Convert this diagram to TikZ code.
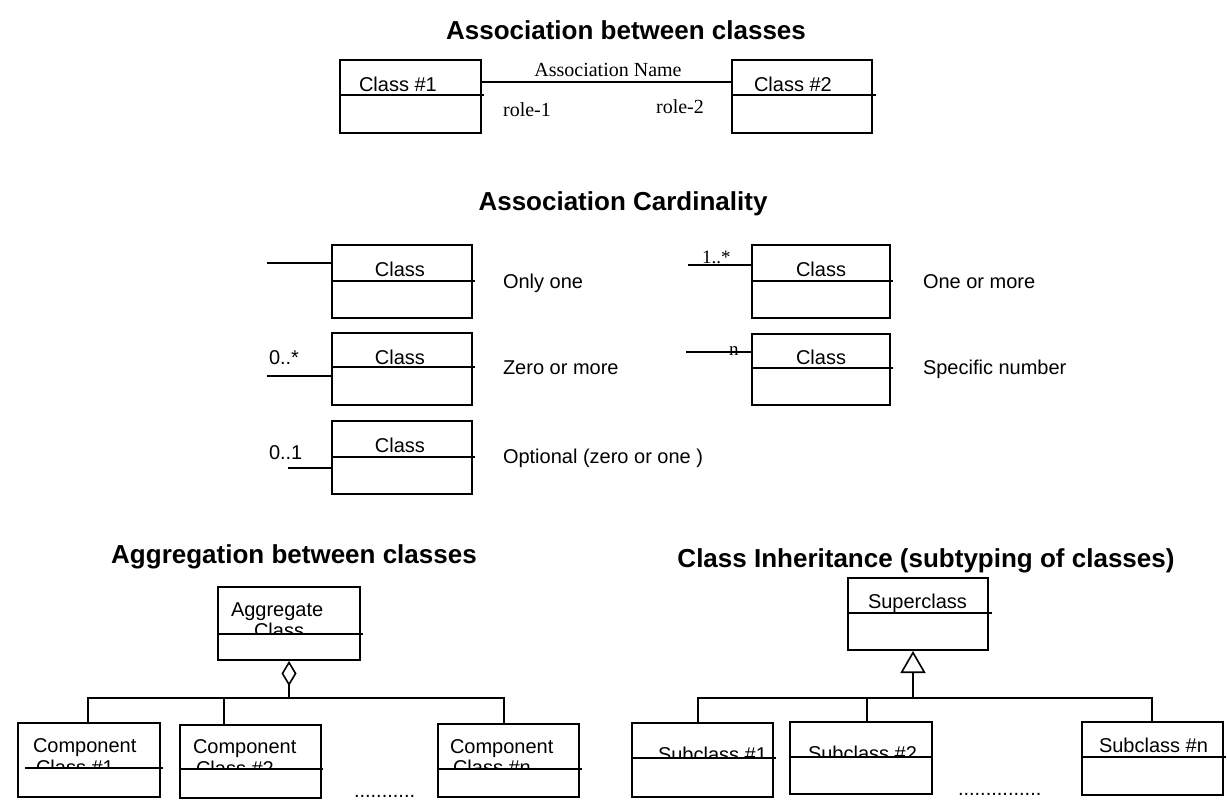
\documentclass[tikz,border=0pt]{standalone}
\usepackage{fontspec}
\setmainfont{Liberation Serif}
\setsansfont{Liberation Sans}
\usetikzlibrary{fit,arrows.meta}
\begin{document}
\begin{tikzpicture}[x=1pt,y=-1pt,line width=2pt,line join=miter,
  cbox/.style={draw,fill=white,inner sep=0pt,line width=2pt},
  heading/.style={font=\sffamily\bfseries\fontsize{26}{30}\selectfont,anchor=base,inner sep=0pt},
  lbl/.style={font=\sffamily\fontsize{20}{24}\selectfont,anchor=base west,inner sep=0pt},
  clbl/.style={lbl,anchor=base},
  slbl/.style={font=\rmfamily\fontsize{20}{24}\selectfont,anchor=base,inner sep=0pt},
  mult/.style={font=\rmfamily\fontsize{19}{22}\selectfont,anchor=base west,inner sep=0pt},
  conn/.style={line width=2pt}
]
\fill[white] (0,0) rectangle (1227,810);
\useasboundingbox (0,0) rectangle (1227,810);

% ---------- Association between classes ----------
\node[heading] (t1) at (626,40) {Association between classes};
\node[cbox,fit={(340,60)(481,133)}] (c1) {};
\node[cbox,fit={(732,60)(872,133)}] (c2) {};
\draw (340,95) -- (484,95);
\draw (732,95) -- (876,95);
\node[lbl] (c1n) at (358,92) {Class \#1};
\node[lbl] (c2n) at (753,92) {Class \#2};
\draw[conn] (c1.east |- 0,82) -- (c2.west |- 0,82);
\node[slbl] (an) at (608,77) {Association Name};
\node[slbl] (r1) at (527,117) {role-1};
\node[slbl] (r2) at (680,114) {role-2};

% ---------- Association cardinality ----------
\node[heading] (t2) at (623,211) {Association Cardinality};
\node[cbox,fit={(332,245)(472,318)}] (l1) {};
\node[cbox,fit={(332,333)(472,405)}] (l2) {};
\node[cbox,fit={(332,421)(472,494)}] (l3) {};
\node[cbox,fit={(752,245)(890,318)}] (q1) {};
\node[cbox,fit={(752,334)(890,405)}] (q2) {};
\draw (332,281) -- (475,281);
\draw (332,367) -- (475,367);
\draw (332,457) -- (475,457);
\draw (752,281) -- (893,281);
\draw (752,368) -- (893,368);
\node[clbl] at (400,277) {Class};
\node[clbl] at (400,365) {Class};
\node[clbl] at (400,453) {Class};
\node[clbl] at (821,277) {Class};
\node[clbl] at (821,365) {Class};

\coordinate (e1) at (267,263);
\coordinate (e2) at (267,376);
\coordinate (e3) at (288,468);
\coordinate (e4) at (688,265);
\coordinate (e5) at (686,352);
\draw[conn] (e1) -- (e1 -| l1.west);
\draw[conn] (e2) -- (e2 -| l2.west);
\draw[conn] (e3) -- (e3 -| l3.west);
\draw[conn] (e4) -- (e4 -| q1.west);
\draw[conn] (e5) -- (e5 -| q2.west);
\node[lbl] at (268,365) {0..*};
\node[lbl] at (268,459) {0..1};
\node[mult] at (701,264) {1..*};
\node[mult] at (728,356) {n};

\node[lbl] at (502,289) {Only one};
\node[lbl] at (502,375) {Zero or more};
\node[lbl] at (502,464) {Optional (zero or one )};
\node[lbl] at (922,289) {One or more};
\node[lbl] at (922,375) {Specific number};

% ---------- Aggregation ----------
\node[heading] (t3) at (294,563) {Aggregation between classes};
\node[cbox,fit={(218,587)(360,660)}] (agg) {};
\node[lbl] at (230,616) {Aggregate};
\node[lbl] at (253,637) {Class};
\fill[white] (219,635) rectangle (359,659);
\draw (218,634) -- (363,634);

\node[cbox,fit={(18,723)(160,797)}] (p1) {};
\node[lbl] at (32,752) {Component};
\node[lbl] at (35,774) {Class \#1};
\fill[white] (19,769) rectangle (159,796);
\draw (25,768) -- (163,768);

\node[cbox,fit={(180,725)(321,798)}] (p2) {};
\node[lbl] at (192,753) {Component};
\node[lbl] at (195,775) {Class \#2};
\fill[white] (181,770) rectangle (320,797);
\draw (180,769) -- (323,769);

\node[cbox,fit={(438,724)(579,797)}] (pn) {};
\node[lbl] at (449,753) {Component};
\node[lbl] at (452,774) {Class \#n};
\fill[white] (439,770) rectangle (578,796);
\draw (438,769) -- (582,769);

\coordinate (a1) at (88,698);
\coordinate (a2) at (224,698);
\coordinate (a3) at (504,698);
\draw[conn,{Diamond[open,length=25pt,width=15pt,line width=1.6pt]}-] (agg.south) -- (agg.south |- a1);
\draw[conn] (a1 |- p1.north) -- (a1) -- (a3) -- (a3 |- pn.north);
\draw[conn] (a2) -- (a2 |- p2.north);
\node[lbl] (d1) at (353,797) {...........};

% ---------- Inheritance ----------
\node[heading] (t4) at (926,567) {Class Inheritance (subtyping of classes)};
\node[cbox,fit={(848,578)(988,650)}] (sup) {};
\node[lbl] at (867,608) {Superclass};
\draw (848,613) -- (992,613);

\node[cbox,fit={(632,723)(773,797)}] (s1) {};
\node[lbl] at (657,761) {Subclass \#1};
\fill[white] (633,759) rectangle (772,796);
\draw (632,758) -- (776,758);

\node[cbox,fit={(790,722)(932,794)}] (s2) {};
\node[lbl] at (807,760) {Subclass \#2};
\fill[white] (791,758) rectangle (931,793);
\draw (790,757) -- (933,757);

\node[cbox,fit={(1082,722)(1223,795)}] (sn) {};
\node[lbl] at (1098,752) {Subclass \#n};
\draw (1082,757) -- (1226,757);

\coordinate (b0) at (913,698);
\coordinate (b1) at (698,698);
\coordinate (b2) at (867,698);
\coordinate (b3) at (1152,698);
\draw[conn,{Triangle[open,length=22pt,width=25pt,line width=1.6pt]}-] (b0 |- sup.south) -- (b0);
\draw[conn] (b1 |- s1.north) -- (b1) -- (b3) -- (b3 |- sn.north);
\draw[conn] (b2) -- (b2 |- s2.north);
\node[lbl] (d2) at (957,795) {...............};
\end{tikzpicture}
\end{document}
